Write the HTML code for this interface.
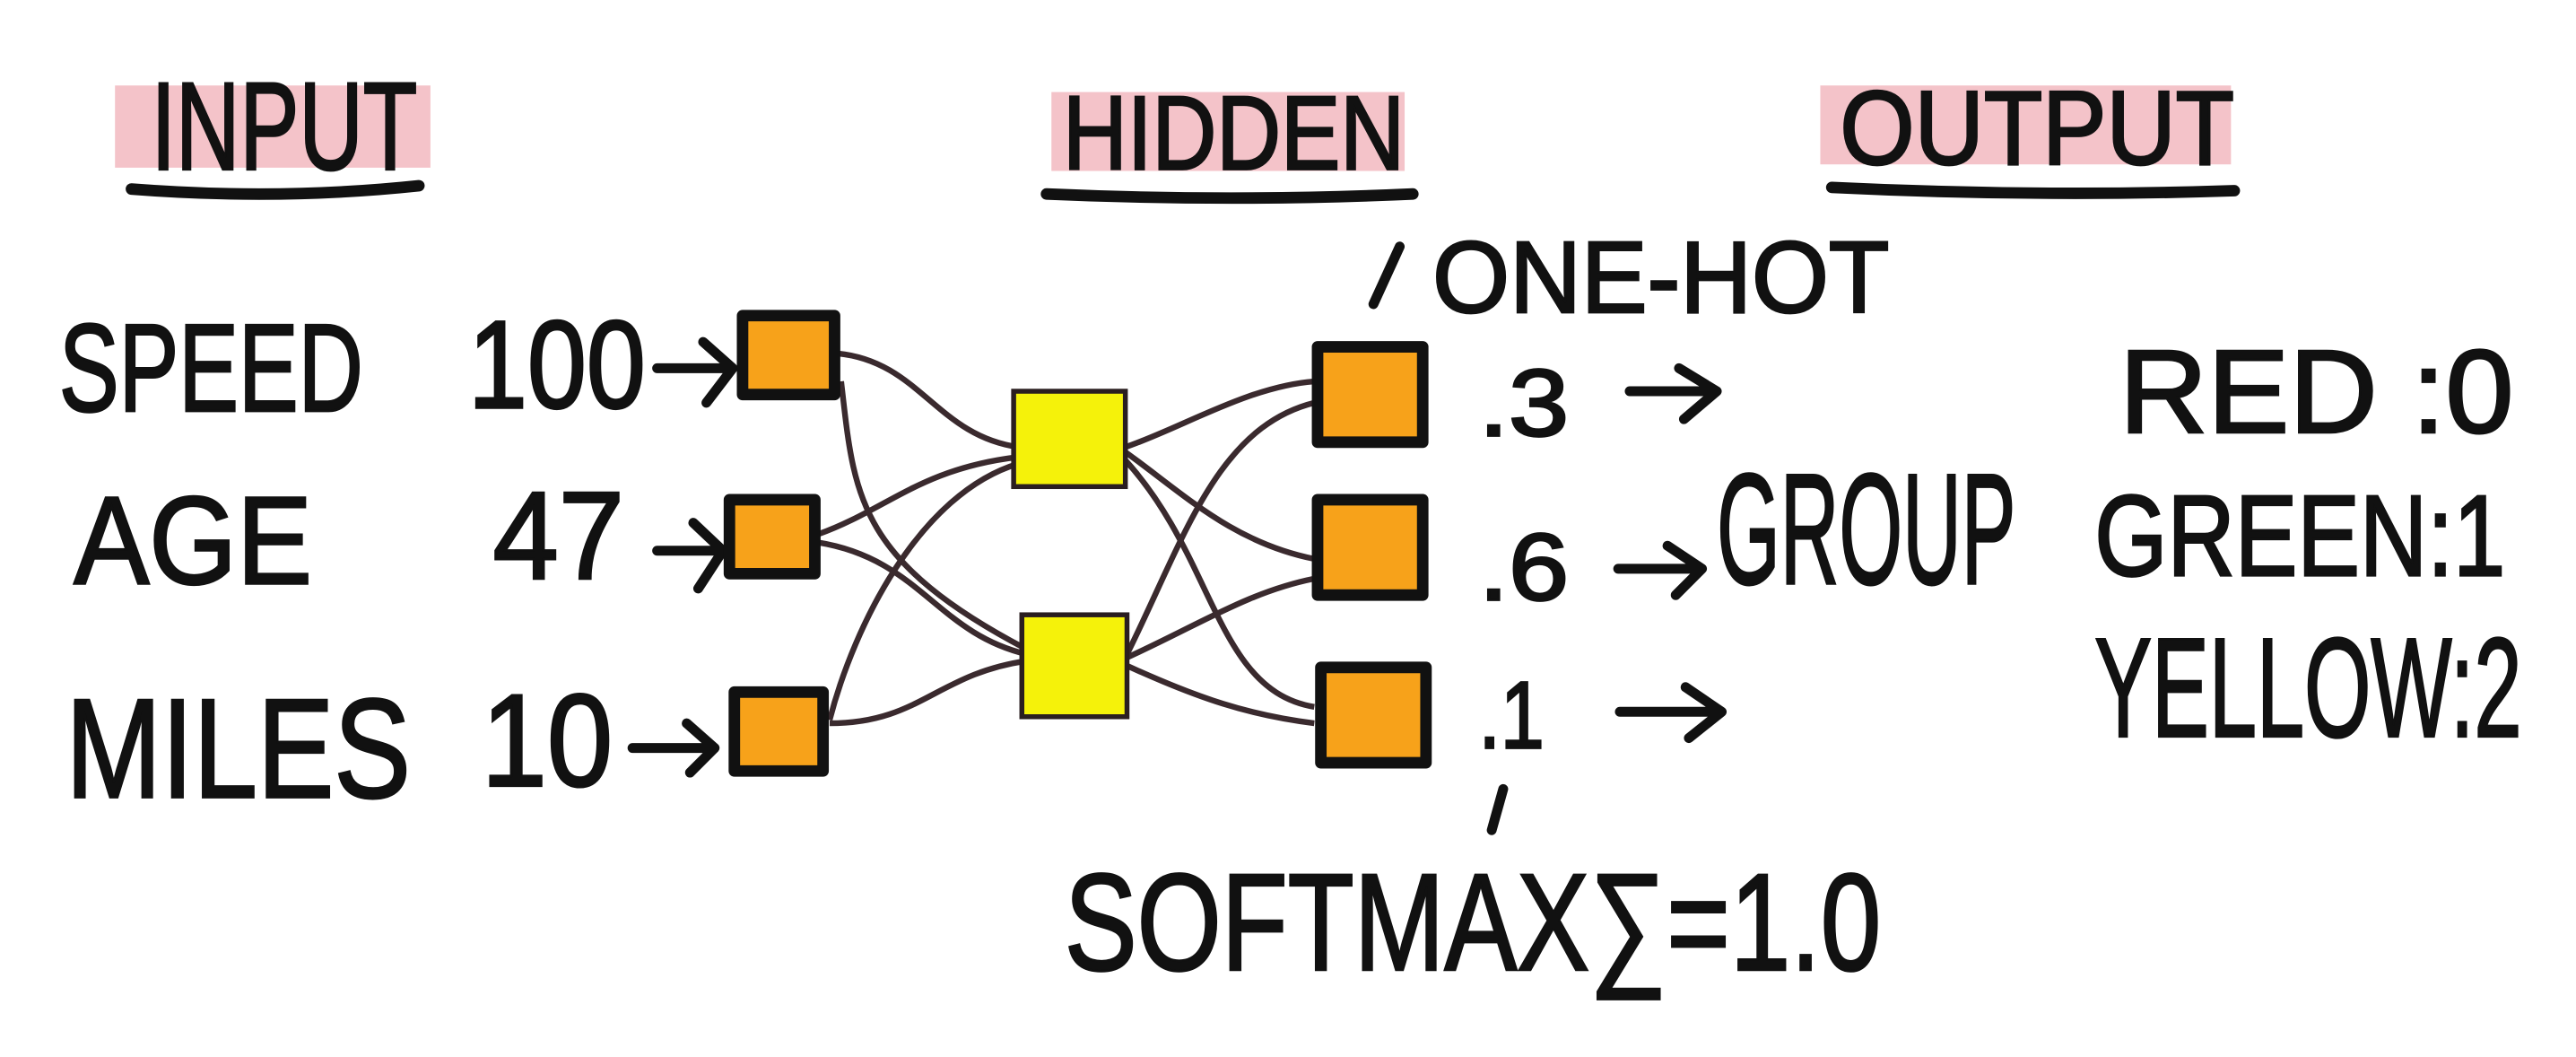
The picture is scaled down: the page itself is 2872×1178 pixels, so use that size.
<!DOCTYPE html>
<html><head><meta charset="utf-8"><style>
html,body{margin:0;padding:0;background:#fff;}
svg{display:block}
text{font-family:"Liberation Sans",sans-serif;fill:#111;stroke:#111;stroke-width:1.5;}
</style></head><body>
<svg width="2872" height="1178" viewBox="0 0 1568 643" preserveAspectRatio="none" xmlns="http://www.w3.org/2000/svg">
<rect width="1568" height="643" fill="#fff"/>
<rect x="70" y="52" width="192" height="50" fill="#f2b8bf" opacity="0.85"/>
<rect x="640" y="56" width="215" height="48" fill="#f2b8bf" opacity="0.85"/>
<rect x="1108" y="52" width="250" height="48" fill="#f2b8bf" opacity="0.85"/>
<g stroke="#111" stroke-width="7" stroke-linecap="round" fill="none">
<path d="M80 115 Q170 122 255 113"/>
<path d="M637 118 Q750 123 860 118"/>
<path d="M1115 114 Q1240 120 1360 116"/>
</g>
<g>
<text x="92" y="103" font-size="76" textLength="162" lengthAdjust="spacingAndGlyphs">INPUT</text>
<text x="647" y="103" font-size="64" textLength="208" lengthAdjust="spacingAndGlyphs">HIDDEN</text>
<text x="1120" y="100" font-size="64" textLength="240" lengthAdjust="spacingAndGlyphs">OUTPUT</text>
<text x="872" y="190" font-size="62" textLength="278" lengthAdjust="spacingAndGlyphs">ONE-HOT</text>
<text x="36" y="250" font-size="76" textLength="185" lengthAdjust="spacingAndGlyphs">SPEED</text>
<text x="285" y="248" font-size="76" textLength="108" lengthAdjust="spacingAndGlyphs">100</text>
<text x="45" y="355" font-size="76" textLength="145" lengthAdjust="spacingAndGlyphs">AGE</text>
<text x="300" y="352" font-size="76" textLength="80" lengthAdjust="spacingAndGlyphs">47</text>
<text x="40" y="485" font-size="86" textLength="210" lengthAdjust="spacingAndGlyphs">MILES</text>
<text x="293" y="478" font-size="80" textLength="80" lengthAdjust="spacingAndGlyphs">10</text>
<text x="900" y="265" font-size="58" textLength="55" lengthAdjust="spacingAndGlyphs">.3</text>
<text x="900" y="365" font-size="58" textLength="55" lengthAdjust="spacingAndGlyphs">.6</text>
<text x="900" y="455" font-size="58" textLength="40" lengthAdjust="spacingAndGlyphs">.1</text>
<text x="1045" y="355" font-size="96" textLength="182" lengthAdjust="spacingAndGlyphs">GROUP</text>
<text x="1290" y="263" font-size="72" textLength="240" lengthAdjust="spacingAndGlyphs">RED  :0</text>
<text x="1275" y="350" font-size="70" textLength="250" lengthAdjust="spacingAndGlyphs">GREEN:1</text>
<text x="1275" y="448" font-size="86" textLength="260" lengthAdjust="spacingAndGlyphs">YELLOW:2</text>
<text x="648" y="590" font-size="84" textLength="497" lengthAdjust="spacingAndGlyphs">SOFTMAX∑=1.0</text>
</g>
<g stroke="#111" stroke-width="6" stroke-linecap="round" stroke-linejoin="round" fill="none">
<path d="M400 224 H442 M428 208 L446 224 L430 245"/>
<path d="M400 335 H438 M422 318 L440 335 L425 358"/>
<path d="M385 455 H432 M418 440 L435 455 L420 470"/>
<path d="M992 238 H1042 M1022 224 L1045 238 L1025 255"/>
<path d="M985 346 H1033 M1015 332 L1036 346 L1020 362"/>
<path d="M986 433 H1045 M1026 418 L1048 433 L1028 449"/>
<path d="M836 185 L852 150"/>
<path d="M908 505 L915 480"/>
</g>
<g stroke="#3a2a2e" stroke-width="3.5" fill="none">
<path d="M510 215 C560 220 570 265 620 272"/>
<path d="M512 232 C520 300 520 340 625 395"/>
<path d="M498 325 C540 310 560 285 620 278"/>
<path d="M498 330 C560 340 570 385 625 398"/>
<path d="M505 438 C520 380 560 300 620 282"/>
<path d="M505 440 C560 440 570 410 625 402"/>
<path d="M685 272 C720 260 760 235 800 232"/>
<path d="M685 275 C720 300 750 330 800 340"/>
<path d="M685 280 C740 340 740 420 800 430"/>
<path d="M686 398 C720 330 740 260 800 245"/>
<path d="M686 400 C730 380 760 360 800 352"/>
<path d="M686 405 C730 425 760 435 800 440"/>
</g>
<g stroke="#111" stroke-width="7" stroke-linejoin="round">
<rect x="452" y="192" width="56" height="48" fill="#f7a21a"/>
<rect x="444" y="304" width="52" height="45" fill="#f7a21a"/>
<rect x="447" y="421" width="54" height="48" fill="#f7a21a"/>
<rect x="802" y="211" width="64" height="58" fill="#f7a21a"/>
<rect x="802" y="304" width="64" height="58" fill="#f7a21a"/>
<rect x="804" y="406" width="64" height="58" fill="#f7a21a"/>
</g>
<g stroke="#2a1e20" stroke-width="3">
<rect x="617" y="238" width="68" height="58" fill="#f5f20a"/>
<rect x="622" y="374" width="64" height="62" fill="#f5f20a"/>
</g>
</svg>
</body></html>
